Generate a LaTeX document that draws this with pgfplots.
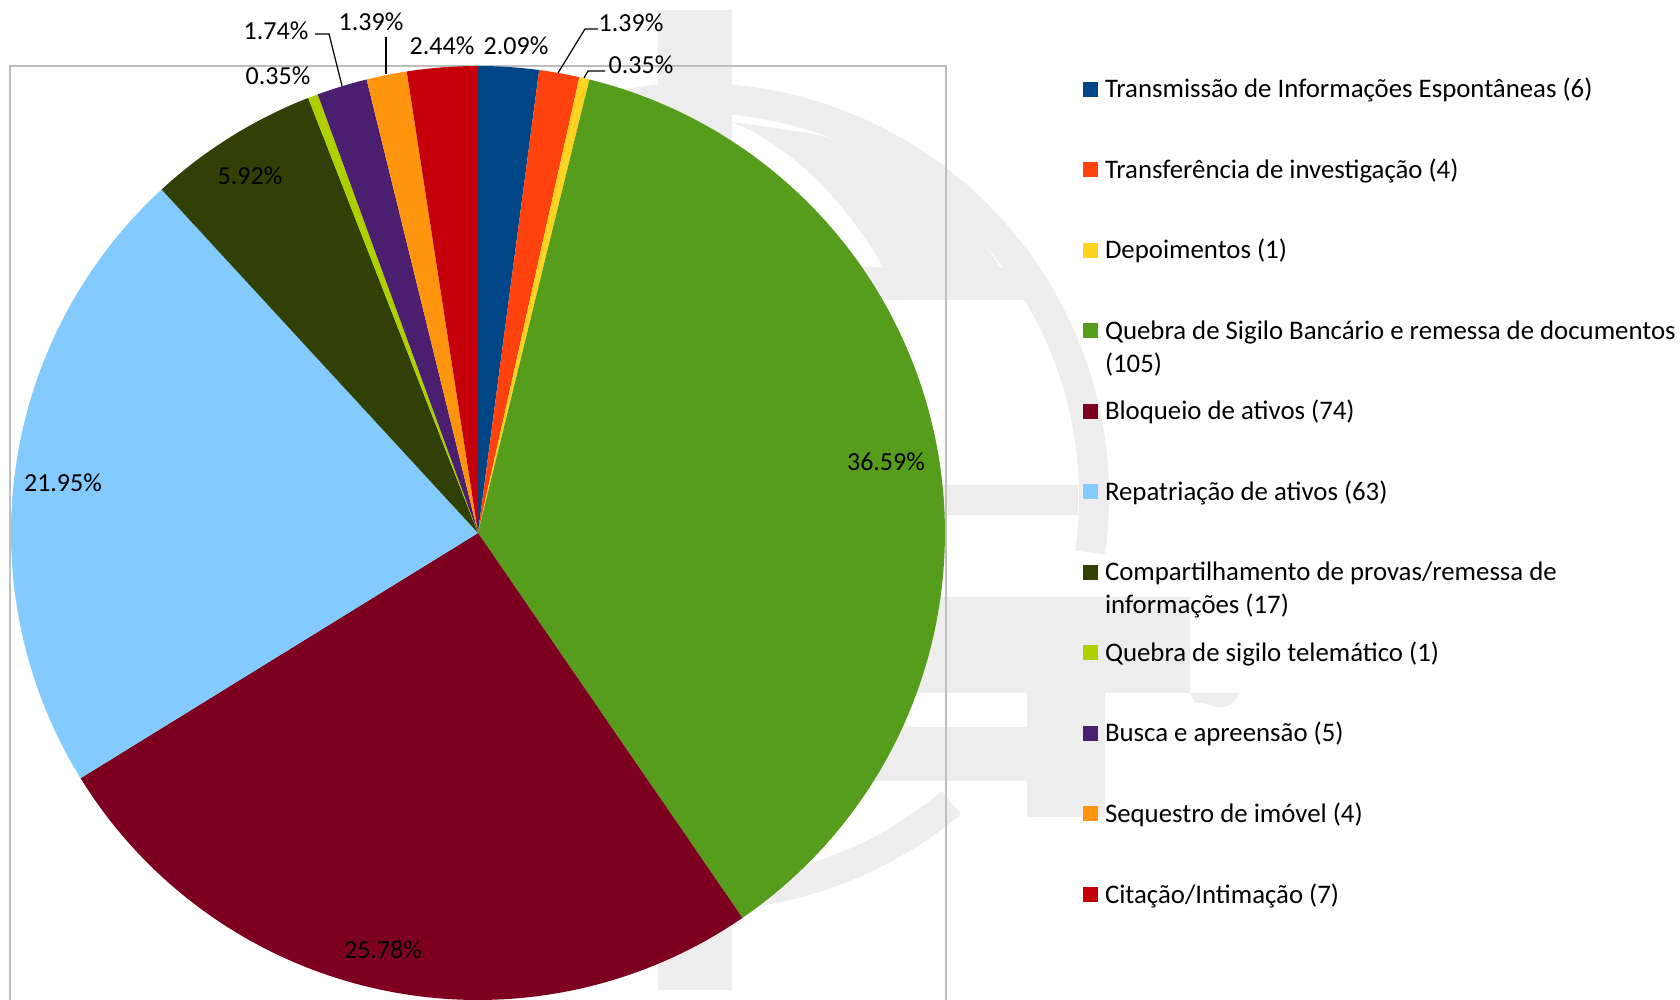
\documentclass[border=0pt]{standalone}
\usepackage{pgfplots}
\usepackage{pgfplotstable}
\pgfplotsset{compat=1.18}
\usepackage{fontspec}
\setmainfont{Carlito}

\definecolor{pc0}{HTML}{004586}
\definecolor{pc1}{HTML}{FF420E}
\definecolor{pc2}{HTML}{FFD320}
\definecolor{pc3}{HTML}{579D1C}
\definecolor{pc4}{HTML}{7E0021}
\definecolor{pc5}{HTML}{83CAFF}
\definecolor{pc6}{HTML}{314004}
\definecolor{pc7}{HTML}{AECF00}
\definecolor{pc8}{HTML}{4B1F6F}
\definecolor{pc9}{HTML}{FF950E}
\definecolor{pc10}{HTML}{C5000B}
\definecolor{wm}{HTML}{EDEDED}
\definecolor{boxgray}{HTML}{BEBEBE}

% counts per category (from the legend)
\pgfplotstableread{
val
6
4
1
105
74
63
17
1
5
4
7
}\piedata

\def\pietotal{0}
\pgfplotsforeachungrouped \i in {0,...,10}{%
  \pgfplotstablegetelem{\i}{val}\of\piedata
  \pgfmathsetmacro\pietotal{\pietotal+\pgfplotsretval}%
}
\def\piecum{0}
\pgfplotsforeachungrouped \i in {0,...,10}{%
  \pgfplotstablegetelem{\i}{val}\of\piedata
  \pgfmathsetmacro\pieA{90-360*(\piecum/\pietotal)}%
  \pgfmathsetmacro\piecum{\piecum+\pgfplotsretval}%
  \pgfmathsetmacro\pieB{90-360*(\piecum/\pietotal)}%
  \expandafter\xdef\csname pieS\i\endcsname{\pieA}%
  \expandafter\xdef\csname pieE\i\endcsname{\pieB}%
}

\newcommand{\lblfont}{\fontsize{26pt}{33pt}\selectfont}
\newcommand{\legfont}{\fontsize{26.8pt}{33pt}\selectfont}

\begin{document}
\begin{tikzpicture}
\useasboundingbox (0,0) rectangle (1680pt,1000pt);
\begin{axis}[
  at={(0pt,0pt)}, anchor=south west,
  width=1680pt, height=1000pt, scale only axis,
  xmin=0, xmax=1680, ymin=0, ymax=1000,
  hide axis, clip=false,
  legend image code/.code={\fill[#1] (0pt,1pt) rectangle (15pt,16pt);},
  legend style={
    at={(0.64464,0.922)}, anchor=north west,
    draw=none, fill=none, inner sep=0pt, outer sep=0pt,
    font=\legfont,
    row sep=52.5pt, column sep=7pt,
    cells={anchor=base west},
    nodes={inner sep=0pt, text height=20pt, text depth=8pt},
  },
  legend entries={
    Transmissão de Informações Espontâneas (6),
    Transferência de investigação (4),
    Depoimentos (1),
    {\begin{tabular}[t]{@{}l@{}}Quebra de Sigilo Bancário e remessa de documentos\\(105)\end{tabular}},
    Bloqueio de ativos (74),
    Repatriação de ativos (63),
    {\begin{tabular}[t]{@{}l@{}}Compartilhamento de provas/remessa de\\informações (17)\end{tabular}},
    Quebra de sigilo telemático (1),
    Busca e apreensão (5),
    Sequestro de imóvel (4),
    Citação/Intimação (7)
  },
]
% --- faint watermark (background decoration) ---
\fill[wm] (axis cs:658,10) rectangle (axis cs:732,990);
\draw[wm, line width=30pt] (axis cs:695,503) ++(-8:399pt) arc[start angle=-8, end angle=185, radius=399pt];
\draw[wm, line width=30pt] (axis cs:695,503) ++(-50:399pt) arc[start angle=-50, end angle=-130, radius=399pt];
\fill[wm] (axis cs:732,878) .. controls (axis cs:800,850) and (axis cs:850,790) .. (axis cs:883,733)
   -- (axis cs:1000,733) .. controls (axis cs:950,810) and (axis cs:880,855) .. (axis cs:803,868) -- cycle;
\fill[wm] (axis cs:732,700) rectangle (axis cs:1030,733);
\fill[wm] (axis cs:732,485) rectangle (axis cs:1078,515);
\fill[wm] (axis cs:732,307) -- (axis cs:1240,307) .. controls (axis cs:1225,280) and (axis cs:1210,300) .. (axis cs:1195,297)
   -- (axis cs:1190,307) -- (axis cs:1190,403) -- (axis cs:732,403) -- cycle;
\fill[wm] (axis cs:732,219) rectangle (axis cs:1027,273);
\fill[wm] (axis cs:1027,183) rectangle (axis cs:1105,307);
% --- plot area frame ---
\draw[boxgray, line width=1.5pt] (axis cs:10,-20) -- (axis cs:10,934) -- (axis cs:946,934) -- (axis cs:946,-20);
% --- pie slices ---
\pgfplotsinvokeforeach{0,...,10}{
  \addplot[fill=pc#1, draw=none, variable=\t, samples=90,
           domain=\csname pieE#1\endcsname:\csname pieS#1\endcsname]
    ({478+467*cos(\t)},{467+467*sin(\t)}) -- (axis cs:478,467) -- cycle;
}
% --- leader lines ---
\draw[black, line width=1.2pt] (axis cs:558,927) -- (axis cs:585,971) -- (axis cs:598,971);
\draw[black, line width=1.2pt] (axis cs:584,922) -- (axis cs:588,929) -- (axis cs:605,929);
\draw[black, line width=1.2pt] (axis cs:342,914) -- (axis cs:329,966) -- (axis cs:315,966);
\draw[black, line width=1.2pt] (axis cs:386,926) -- (axis cs:386,963);
% --- data labels ---
\begin{scope}[every node/.style={font=\lblfont, anchor=base, inner sep=0pt}]
\node at (axis cs:516,945.5) {2.09\%};
\node at (axis cs:442,945.5) {2.44\%};
\node at (axis cs:631,968.5) {1.39\%};
\node at (axis cs:641,926.5) {0.35\%};
\node at (axis cs:276,960.5) {1.74\%};
\node at (axis cs:371,969.5) {1.39\%};
\node at (axis cs:278,915.5) {0.35\%};
\node at (axis cs:250,815.5) {5.92\%};
\node at (axis cs:886,529.5) {36.59\%};
\node at (axis cs:63,508.5) {21.95\%};
\node at (axis cs:383,41.5) {25.78\%};
\end{scope}
\end{axis}
\end{tikzpicture}
\end{document}
